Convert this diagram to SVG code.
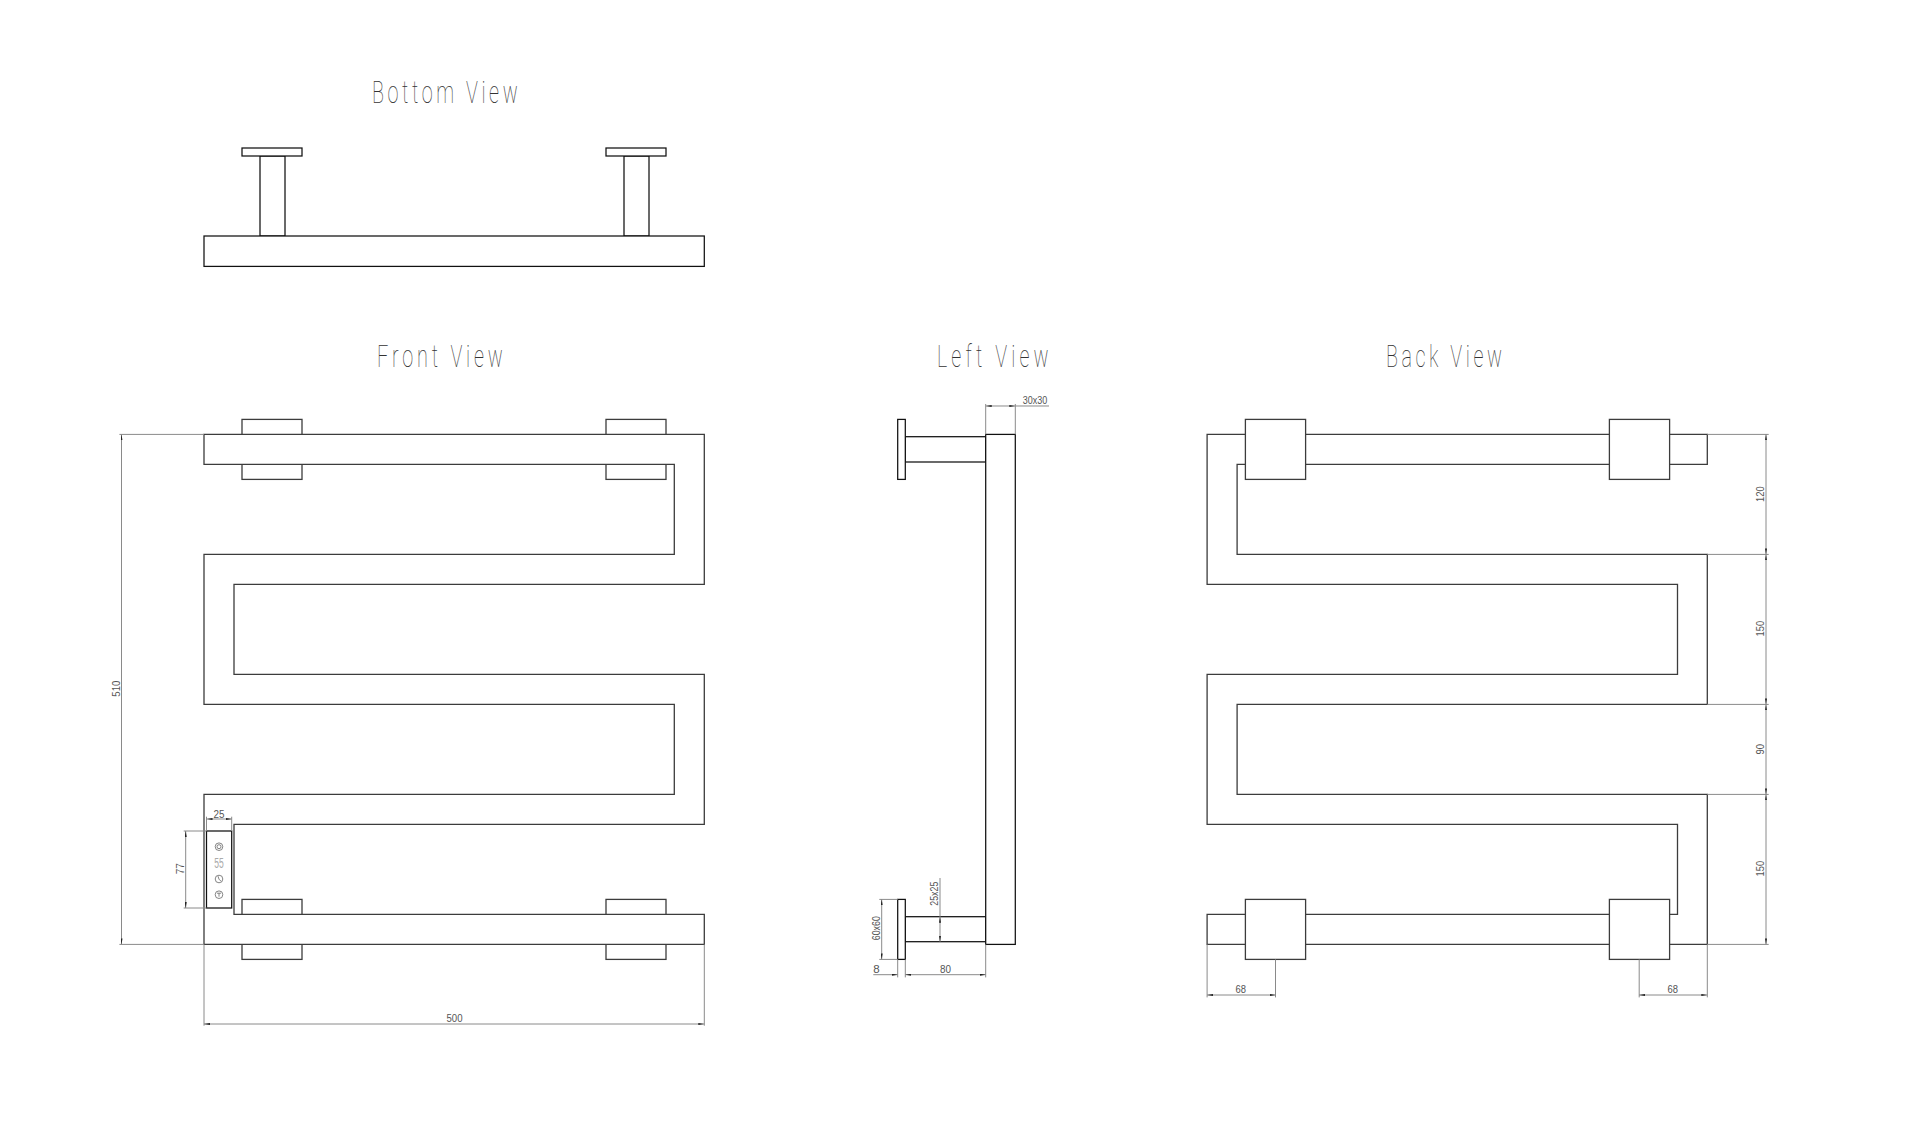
<svg xmlns="http://www.w3.org/2000/svg" width="1920" height="1131" viewBox="0 0 1920 1131">
<style>
.o{fill:#fff;stroke:#3c3c3c;stroke-width:1.3}
.k{fill:#fff;stroke:#111;stroke-width:1.25}
.dim{fill:none;stroke:#8a8a8a;stroke-width:1}
.ar{marker-start:url(#a);marker-end:url(#a)}
.t{font-family:"Roboto","Liberation Sans",sans-serif;font-weight:100;font-size:32px;fill:#333}
.d{font-family:"Liberation Sans",sans-serif;font-size:11.5px;fill:#555;text-anchor:middle}
.ic{fill:none;stroke:#666;stroke-width:.8}
</style>
<defs>
<marker id="a" viewBox="0 0 6 2" refX="6" refY="1" markerWidth="6" markerHeight="2" markerUnits="userSpaceOnUse" orient="auto-start-reverse"><path d="M0 0L6 1L0 2z" fill="#222"/></marker>
<marker id="e" viewBox="0 0 6 2" refX="6" refY="1" markerWidth="6" markerHeight="2" markerUnits="userSpaceOnUse" orient="auto"><path d="M0 0L6 1L0 2z" fill="#222"/></marker>
</defs>
<rect width="1920" height="1131" fill="#fff"/>
<g id="titles">
<text class="t" transform="translate(372 102.7) scale(.62 1)" textLength="235" lengthAdjust="spacing">Bottom View</text>
<text class="t" transform="translate(377 366.7) scale(.62 1)" textLength="203" lengthAdjust="spacing">Front View</text>
<text class="t" transform="translate(937 366.7) scale(.62 1)" textLength="180" lengthAdjust="spacing">Left View</text>
<text class="t" transform="translate(1386 366.7) scale(.62 1)" textLength="187" lengthAdjust="spacing">Back View</text>
</g>
<g transform="translate(0 .7)">
<g id="bottom-view">
<rect class="k" x="260" y="155.3" width="25" height="80"/>
<rect class="k" x="624" y="155.3" width="25" height="80"/>
<rect class="k" x="242" y="147.3" width="60" height="8"/>
<rect class="k" x="606" y="147.3" width="60" height="8"/>
<rect class="k" x="204" y="235.3" width="500.3" height="30.4"/>
</g>
<g id="front-view">
<rect class="o" x="242" y="418.7" width="60" height="60"/>
<rect class="o" x="606" y="418.7" width="60" height="60"/>
<rect class="o" x="242" y="898.7" width="60" height="60"/>
<rect class="o" x="606" y="898.7" width="60" height="60"/>
<path class="o" d="M204 433.7H704.3V583.7H234V673.7H704.3V823.7H234V913.7H704.3V943.7H204V793.7H674.3V703.7H204V553.7H674.3V463.7H204Z"/>
<g id="control-panel">
<rect class="k" x="206.5" y="830.3" width="25.2" height="77"/>
<circle class="ic" cx="219" cy="846" r="3.8"/><circle class="ic" cx="219" cy="846" r="2"/>
<text x="219" y="867.5" text-anchor="middle" textLength="9.5" lengthAdjust="spacingAndGlyphs" style="font-family:'Liberation Sans',sans-serif;font-size:14px;fill:#aaa">55</text>
<circle class="ic" cx="219" cy="878.3" r="3.8"/><path class="ic" d="M218 875.5L219 878.5L221 880.5"/>
<circle class="ic" cx="219" cy="894" r="3.8"/><path class="ic" d="M217 892.5H221M219 892.5V896"/>
</g>
</g>
<g id="left-view">
<rect class="k" x="905.3" y="436" width="80.4" height="25.3"/>
<rect class="k" x="905.3" y="916" width="80.4" height="25"/>
<rect class="k" x="897.7" y="418.7" width="7.6" height="60"/>
<rect class="k" x="897.7" y="898.7" width="7.6" height="60"/>
<rect class="k" x="985.7" y="433.7" width="29.6" height="510"/>
</g>
<g id="back-view">
<path class="o" d="M1207.1 433.7H1707.3V463.7H1237.1V553.7H1707.3V703.7H1237.1V793.7H1707.3V943.7H1207.1V913.7H1677.5V823.7H1207.1V673.7H1677.5V583.7H1207.1Z"/>
<rect class="o" x="1245.4" y="418.7" width="60.2" height="60"/>
<rect class="o" x="1609.4" y="418.7" width="60.2" height="60"/>
<rect class="o" x="1245.4" y="898.7" width="60.2" height="60"/>
<rect class="o" x="1609.4" y="898.7" width="60.2" height="60"/>
</g>
<g id="connectors">
<path class="dim" d="M119.4 433.7H204M119.4 943.7H204M204 943.7V1025M704.3 943.7V1025M183.7 830.3H206.5M183.7 907.3H206.5M206.5 816V830.3M231.7 816V830.3"/>
<path class="dim ar" d="M121.5 433.7V943.7"/>
<path class="dim ar" d="M204 1023.3H704.3"/>
<path class="dim ar" d="M206.5 818.3H231.7"/>
<path class="dim ar" d="M185.7 830.3V907.3"/>
<path class="dim" d="M985.7 403.3V433.7M1015.3 403.3V433.7M1015.3 405.3H1049M879.3 898.7H897.7M879.3 958.7H897.7M940 877.3V916M897.7 958.7V976.7M905.3 958.7V976.7M985.7 943.7V976.7"/>
<path class="dim ar" d="M985.7 405.3H1015.3"/>
<path class="dim ar" d="M881.7 898.7V958.7"/>
<path class="dim ar" d="M940 916V941"/>
<path class="dim" style="marker-end:url(#e)" d="M873.3 974H897.7"/>
<path class="dim ar" d="M905.3 974H985.7"/>
<path class="dim" d="M1707.3 433.7H1768.7M1707.3 553.7H1768.7M1707.3 703.7H1768.7M1707.3 793.7H1768.7M1707.3 943.7H1768.7M1207.1 943.7V996.7M1275.5 958.7V996.7M1639.2 958.7V996.7M1707.3 943.7V996.7"/>
<path class="dim ar" d="M1766 433.7V553.7"/>
<path class="dim ar" d="M1766 553.7V703.7"/>
<path class="dim ar" d="M1766 703.7V793.7"/>
<path class="dim ar" d="M1766 793.7V943.7"/>
<path class="dim ar" d="M1207.1 994.3H1275.5"/>
<path class="dim ar" d="M1639.2 994.3H1707.3"/>
</g>
<g id="dimension-labels">
<text class="d" transform="translate(120 688) rotate(-90)" textLength="16" lengthAdjust="spacingAndGlyphs">510</text>
<text class="d" x="454.5" y="1021.5" textLength="16" lengthAdjust="spacingAndGlyphs">500</text>
<text class="d" x="219" y="817" textLength="11" lengthAdjust="spacingAndGlyphs">25</text>
<text class="d" transform="translate(183.5 868) rotate(-90)" textLength="11" lengthAdjust="spacingAndGlyphs">77</text>
<text class="d" x="1035" y="403.5" textLength="24.5" lengthAdjust="spacingAndGlyphs">30x30</text>
<text class="d" transform="translate(937.5 893) rotate(-90)" textLength="24" lengthAdjust="spacingAndGlyphs">25x25</text>
<text class="d" transform="translate(879.5 927.5) rotate(-90)" textLength="24" lengthAdjust="spacingAndGlyphs">60x60</text>
<text class="d" x="876.5" y="972.5">8</text>
<text class="d" x="945.5" y="972.5" textLength="11" lengthAdjust="spacingAndGlyphs">80</text>
<text class="d" transform="translate(1764 493.5) rotate(-90)" textLength="15.7" lengthAdjust="spacingAndGlyphs">120</text>
<text class="d" transform="translate(1764 628) rotate(-90)" textLength="15.7" lengthAdjust="spacingAndGlyphs">150</text>
<text class="d" transform="translate(1764 748.5) rotate(-90)" textLength="10.5" lengthAdjust="spacingAndGlyphs">90</text>
<text class="d" transform="translate(1764 868) rotate(-90)" textLength="15.7" lengthAdjust="spacingAndGlyphs">150</text>
<text class="d" x="1240.7" y="992.5" textLength="10.5" lengthAdjust="spacingAndGlyphs">68</text>
<text class="d" x="1672.7" y="992.5" textLength="10.5" lengthAdjust="spacingAndGlyphs">68</text>
</g>
</g>
</svg>
